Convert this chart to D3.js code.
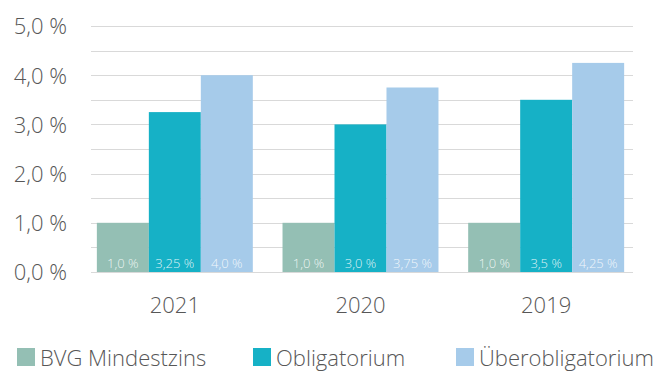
<!DOCTYPE html>
<html>
<head>
<meta charset="utf-8">
<script src="https://cdn.jsdelivr.net/npm/d3@7"></script>
<style>
  html, body { margin: 0; padding: 0; background: #fff; }
  svg { display: block; font-family: "Open Sans", Lato, sans-serif; }
</style>
</head>
<body>
<svg id="chart" width="661" height="372"></svg>
<script>
const years = ["2021", "2020", "2019"];
const seriesNames = ["BVG Mindestzins", "Obligatorium", "Überobligatorium"];
const bvgMindestzins = [1.0, 1.0, 1.0];
const obligatorium = [3.25, 3.0, 3.5];
const ueberobligatorium = [4.0, 3.75, 4.25];
const valueLabels = [
  ["1,0 %", "1,0 %", "1,0 %"],
  ["3,25 %", "3,0 %", "3,5 %"],
  ["4,0 %", "3,75 %", "4,25 %"]
];
const yTicks = [0, 1, 2, 3, 4, 5];
const yTickLabels = ["0,0 %", "1,0 %", "2,0 %", "3,0 %", "4,0 %", "5,0 %"];
const colors = ["#94bfb4", "#16b1c6", "#a6cbea"];

const series = [bvgMindestzins, obligatorium, ueberobligatorium];

const svg = d3.select("#chart");
const textColor = "#575757";
const gridLeft = 91, gridRight = 633;
const y = d3.scaleLinear().domain([0, 5]).range([272, 26]);
const x = d3.scaleBand().domain(years).range([82, 639]).paddingInner(0.16).paddingOuter(0.08);
const xInner = d3.scaleBand().domain(d3.range(series.length)).range([0, x.bandwidth()]);

// Gridlines at every half percent
const grid = svg.append("g");
d3.range(0, 5.01, 0.5).forEach(v => {
  grid.append("line")
    .attr("x1", gridLeft).attr("x2", gridRight)
    .attr("y1", Math.round(y(v)) + 0.5).attr("y2", Math.round(y(v)) + 0.5)
    .attr("stroke", "#d9d9d9").attr("stroke-width", 1);
});

// Y axis labels
const yAxis = d3.axisLeft(y).tickValues(yTicks)
  .tickFormat((d, i) => yTickLabels[i]).tickSize(0).tickPadding(0);
svg.append("g").attr("transform", "translate(67,0)").call(yAxis)
  .call(g => g.select(".domain").remove())
  .call(g => g.selectAll("text").attr("font-size", 22).attr("fill", textColor)
    .attr("font-weight", 300).attr("font-family", "'Open Sans', sans-serif").attr("dy", "0.36em"));

// Bars with value labels at the base
series.forEach((vals, s) => {
  const g = svg.append("g");
  g.selectAll("rect").data(vals).join("rect")
    .attr("x", (d, i) => x(years[i]) + xInner(s))
    .attr("width", xInner.bandwidth())
    .attr("y", d => y(d))
    .attr("height", d => y(0) - y(d))
    .attr("fill", colors[s]);
  g.selectAll("text").data(vals).join("text")
    .attr("x", (d, i) => x(years[i]) + xInner(s) + xInner.bandwidth() / 2)
    .attr("y", y(0) - 4)
    .attr("text-anchor", "middle")
    .attr("font-size", 13)
    .attr("font-weight", 300)
    .attr("fill", "rgba(255,255,255,0.85)")
    .text((d, i) => valueLabels[s][i]);
});

// X axis labels
const xAxis = d3.axisBottom(x).tickSize(0).tickPadding(0);
svg.append("g").attr("transform", "translate(0,297)").call(xAxis)
  .call(g => g.select(".domain").remove())
  .call(g => g.selectAll("text").attr("font-size", 22).attr("fill", textColor)
    .attr("font-weight", 300).attr("font-family", "'Open Sans', sans-serif").attr("dy", "0.71em"));

// Legend
const legendX = [17, 253, 456];
const legend = svg.append("g");
seriesNames.forEach((name, i) => {
  legend.append("rect").attr("x", legendX[i]).attr("y", 348).attr("width", 18).attr("height", 18)
    .attr("fill", colors[i]);
  legend.append("text").attr("x", legendX[i] + 23).attr("y", 366)
    .attr("font-size", 22).attr("font-weight", 300).attr("fill", textColor)
    .attr("font-family", "'Open Sans', sans-serif")
    .text(name);
});
</script>
</body>
</html>
